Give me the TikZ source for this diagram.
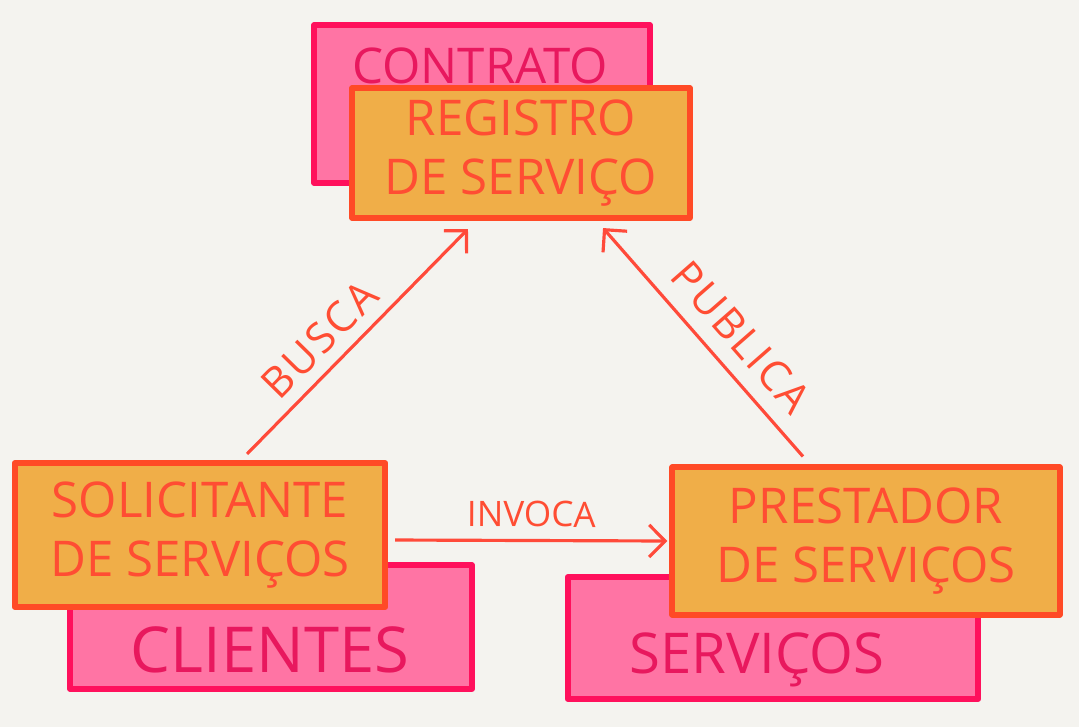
\documentclass[tikz,border=0pt]{standalone}
\usepackage{fontspec}
\setmainfont{Open Sans}
\newfontfamily\spacedfont[LetterSpace=6]{Open Sans}
\usetikzlibrary{arrows.meta}
\definecolor{paper}{HTML}{F4F3EF}
\definecolor{pinkfill}{HTML}{FF74A4}
\definecolor{pinkline}{HTML}{FF105C}
\definecolor{pinktext}{HTML}{E8185E}
\definecolor{orangefill}{HTML}{F0AE48}
\definecolor{orangeline}{HTML}{FF4A26}
\definecolor{orangetext}{HTML}{FF4D33}
\definecolor{arrowred}{HTML}{FF4A3A}

\begin{document}
\begin{tikzpicture}[x=0.01cm, y=-0.01cm,
    box/.style={draw, line width=1.7pt, inner sep=0pt, line join=round},
    pinkbox/.style={box, draw=pinkline, fill=pinkfill},
    orangebox/.style={box, draw=orangeline, fill=orangefill, text=orangetext,
        align=center, font=\fontsize{14}{17}\selectfont},
    pinktxt/.style={text=pinktext, font=\fontsize{16}{19}\selectfont},
    arr/.style={draw=arrowred, line width=0.9pt, -{Straight Barb[length=1.6mm, width=3.2mm]}},
    lbl/.style={text=orangetext, font=\spacedfont\fontsize{12}{14}\selectfont, sloped, above}]
    \fill[paper] (0,0) rectangle (1079,727);

    \node[pinkbox, minimum width=3.35cm, minimum height=1.58cm] (contrato) at (482,104) {};
    \node[pinktxt, font=\fontsize{14}{17}\selectfont] (contratotxt) at (480,66) {CONTRATO};
    \node[orangebox, minimum width=3.37cm, minimum height=1.30cm] (registro) at (521,153) {REGISTRO\\DE SERVIÇO};

    \node[pinkbox, minimum width=4.02cm, minimum height=1.23cm] (clientes) at (271,627) {};
    \node[pinktxt, font=\fontsize{18}{21}\selectfont] (clientestxt) at (270,650) {CLIENTES};
    \node[orangebox, minimum width=3.70cm, minimum height=1.44cm] (solicitante) at (200,535) {SOLICITANTE\\DE SERVIÇOS};

    \node[pinkbox, minimum width=4.10cm, minimum height=1.22cm] (servicos) at (773,638) {};
    \node[pinktxt] (servicostxt) at (757,660) {SERVIÇOS};
    \node[orangebox, minimum width=3.87cm, minimum height=1.47cm] (prestador) at (866,541) {PRESTADOR\\DE SERVIÇOS};

    \draw[arr] ([xshift=0.47cm, yshift=0.06cm]solicitante.north) -- node[lbl, pos=0.42] {BUSCA} ([xshift=-0.53cm, yshift=-0.08cm]registro.south);
    \draw[arr] ([xshift=-0.63cm, yshift=0.08cm]prestador.north) -- node[lbl, pos=0.43, above=1pt] {PUBLICA} ([xshift=0.82cm, yshift=-0.07cm]registro.south);
    \draw[arr] ([xshift=0.07cm, yshift=-0.05cm]solicitante.east) -- node[lbl, font=\fontsize{10}{12}\selectfont] {INVOCA} ([xshift=-0.02cm]prestador.west);
\end{tikzpicture}
\end{document}
